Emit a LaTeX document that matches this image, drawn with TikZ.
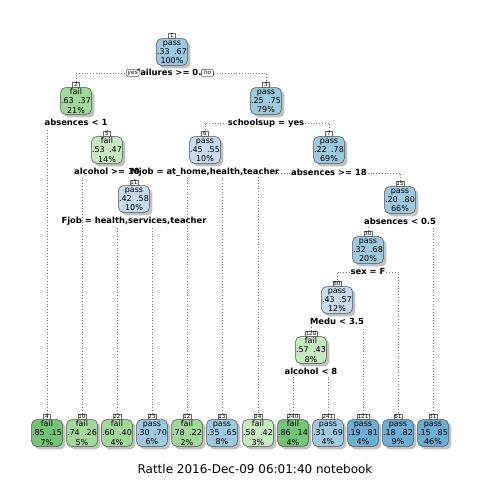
\documentclass[tikz,border=0pt]{standalone}
\usepackage{fontspec}
\setmainfont{DejaVu Sans}
\usepackage{xcolor}
\usetikzlibrary{positioning,shadows}

\definecolor{failhi}{RGB}{116,196,118}
\definecolor{failmid}{RGB}{161,217,155}
\definecolor{faillo}{RGB}{199,233,192}
\definecolor{passlo}{RGB}{198,219,239}
\definecolor{passmid}{RGB}{158,202,225}
\definecolor{passhi}{RGB}{107,174,214}

\newcommand{\probs}[2]{#1\hspace{0.55em}#2}

\tikzset{
  tree node/.style={draw=black!70, rounded corners=3.5pt, minimum width=23pt, minimum height=20pt,
    inner sep=0pt, align=center, font=\fontsize{6}{6.8}\selectfont,
    drop shadow={shadow xshift=2.2pt, shadow yshift=-2.2pt, fill=black!35, opacity=0.7}},
  num box/.style={draw=black!60, fill=white, inner sep=0.5pt, minimum width=5.5pt,
    text height=3pt, text depth=0pt, font=\fontsize{4.2}{4.2}\selectfont},
  split label/.style={font=\bfseries\fontsize{6.3}{6.3}\selectfont, inner sep=0.6pt,
    text height=4.6pt, text depth=1.2pt},
  branch/.style={draw=black!55, line width=0.5pt, dash pattern=on 0.5pt off 1.6pt},
  answer/.style={draw=black!60, fill=white, rounded corners=1pt, inner sep=0.9pt,
    minimum width=9pt, text height=3.1pt, text depth=0.4pt, font=\itshape\fontsize{4.5}{4.5}\selectfont}
}

\begin{document}
\begin{tikzpicture}[x=0.75pt,y=-0.75pt]
\fill[white] (0,0) rectangle (480,480);
\useasboundingbox (0,0) rectangle (480,480);

% inner nodes
\node[tree node, fill=passmid] (n1) at (172,52) {pass\\\probs{.33}{.67}\\100\%};
\node[tree node, fill=failmid] (n2) at (76,101) {fail\\\probs{.63}{.37}\\21\%};
\node[tree node, fill=passmid] (n3) at (266,101) {pass\\\probs{.25}{.75}\\79\%};
\node[tree node, fill=faillo] (n5) at (107,150) {fail\\\probs{.53}{.47}\\14\%};
\node[tree node, fill=passlo] (n6) at (205,150) {pass\\\probs{.45}{.55}\\10\%};
\node[tree node, fill=passmid] (n7) at (329,150) {pass\\\probs{.22}{.78}\\69\%};
\node[tree node, fill=passlo] (n11) at (134,199) {pass\\\probs{.42}{.58}\\10\%};
\node[tree node, fill=passmid] (n15) at (400,200) {pass\\\probs{.20}{.80}\\66\%};
\node[tree node, fill=passmid] (n30) at (368,250) {pass\\\probs{.32}{.68}\\20\%};
\node[tree node, fill=passlo] (n60) at (337,300) {pass\\\probs{.43}{.57}\\12\%};
\node[tree node, fill=faillo] (n120) at (311,350) {fail\\\probs{.57}{.43}\\8\%};

% leaves
\node[tree node, fill=failhi] (n4) at (47,433) {fail\\\probs{.85}{.15}\\7\%};
\node[tree node, fill=failmid] (n10) at (82,433) {fail\\\probs{.74}{.26}\\5\%};
\node[tree node, fill=failmid] (n22) at (117,433) {fail\\\probs{.60}{.40}\\4\%};
\node[tree node, fill=passmid] (n23) at (152,433) {pass\\\probs{.30}{.70}\\6\%};
\node[tree node, fill=failmid] (n12) at (187,433) {fail\\\probs{.78}{.22}\\2\%};
\node[tree node, fill=passmid] (n13) at (222,433) {pass\\\probs{.35}{.65}\\8\%};
\node[tree node, fill=faillo] (n14) at (258,433) {fail\\\probs{.58}{.42}\\3\%};
\node[tree node, fill=failhi] (n240) at (293,433) {fail\\\probs{.86}{.14}\\4\%};
\node[tree node, fill=passmid] (n241) at (328,433) {pass\\\probs{.31}{.69}\\4\%};
\node[tree node, fill=passhi] (n121) at (363,433) {pass\\\probs{.19}{.81}\\4\%};
\node[tree node, fill=passhi] (n61) at (398,433) {pass\\\probs{.18}{.82}\\9\%};
\node[tree node, fill=passhi] (n31) at (433,433) {pass\\\probs{.15}{.85}\\46\%};

% node numbers
\node[num box, above=0pt of n1] (k1) {1};
\node[num box, above=0pt of n2] (k2) {2};
\node[num box, above=0pt of n3] (k3) {3};
\node[num box, above=0pt of n5] (k5) {5};
\node[num box, above=0pt of n6] (k6) {6};
\node[num box, above=0pt of n7] (k7) {7};
\node[num box, above=0pt of n11] (k11) {11};
\node[num box, above=0pt of n15] (k15) {15};
\node[num box, above=0pt of n30] (k30) {30};
\node[num box, above=0pt of n60] (k60) {60};
\node[num box, above=0pt of n120] (k120) {120};
\node[num box, above=0pt of n4] (k4) {4};
\node[num box, above=0pt of n10] (k10) {10};
\node[num box, above=0pt of n22] (k22) {22};
\node[num box, above=0pt of n23] (k23) {23};
\node[num box, above=0pt of n12] (k12) {12};
\node[num box, above=0pt of n13] (k13) {13};
\node[num box, above=0pt of n14] (k14) {14};
\node[num box, above=0pt of n240] (k240) {240};
\node[num box, above=0pt of n241] (k241) {241};
\node[num box, above=0pt of n121] (k121) {121};
\node[num box, above=0pt of n61] (k61) {61};
\node[num box, above=0pt of n31] (k31) {31};

% split labels
\node[split label] (s1) at (172,73) {failures >= 0.5};
\node[split label] (s2) at (76,123) {absences < 1};
\node[split label] (s3) at (266,123) {schoolsup = yes};
\node[split label] (s5) at (107,172) {alcohol >= 10};
\node[split label] (s6) at (205,172) {Mjob = at\_home,health,teacher};
\node[split label] (s7) at (329,173) {absences >= 18};
\node[split label] (s11) at (134,221) {Fjob = health,services,teacher};
\node[split label] (s15) at (400,222) {absences < 0.5};
\node[split label] (s30) at (368,272) {sex = F};
\node[split label] (s60) at (337,322) {Medu < 3.5};
\node[split label] (s120) at (311,372) {alcohol < 8};

% branches
\draw[branch] (s1.west) -| (k2.north);
\draw[branch] (s1.east) -| (k3.north);
\draw[branch] (k4.north) -- (k4.north |- s2.south);
\draw[branch] (k5.north) -- (k5.north |- s2.south);
\draw[branch] (s3.west) -| (k6.north);
\draw[branch] (s3.east) -| (k7.north);
\draw[branch] (k10.north) -- (k10.north |- s5.south);
\draw[branch] (k11.north) -- (k11.north |- s5.south);
\draw[branch] (k12.north) -- (k12.north |- s6.south);
\draw[branch] (k13.north) -- (k13.north |- s6.south);
\draw[branch] (s7.west) -| (k14.north);
\draw[branch] (s7.east) -| (k15.north);
\draw[branch] (k22.north) -- (k22.north |- s11.south);
\draw[branch] (k23.north) -- (k23.north |- s11.south);
\draw[branch] (k30.north) -- (k30.north |- s15.south);
\draw[branch] (k31.north) -- (k31.north |- s15.south);
\draw[branch] (s30.west) -| (k60.north);
\draw[branch] (s30.east) -| (k61.north);
\draw[branch] (k120.north) -- (k120.north |- s60.south);
\draw[branch] (k121.north) -- (k121.north |- s60.south);
\draw[branch] (k240.north) -- (k240.north |- s120.south);
\draw[branch] (k241.north) -- (k241.north |- s120.south);

\node[answer] (yes) at (132.7,73) {yes};
\node[answer] (no) at (207.5,73) {no};

\node[font=\fontsize{9}{9}\selectfont] (title) at (255,469) {Rattle 2016-Dec-09 06:01:40 notebook};
\end{tikzpicture}
\end{document}
